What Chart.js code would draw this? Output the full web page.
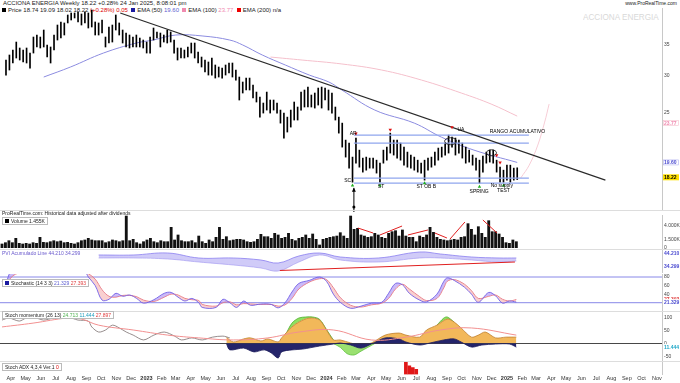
<!DOCTYPE html>
<html>
<head>
<meta charset="utf-8">
<script src="https://cdn.jsdelivr.net/npm/chart.js@4.4.1/dist/chart.umd.min.js"></script>
<style>
  body { margin: 0; width: 680px; height: 383px; overflow: hidden; background: #fff; position: relative;
         font-family: "Liberation Sans", Arial, sans-serif; }
  canvas { position: absolute; left: 0; }
  .t { position: absolute; font-size: 6px; line-height: 7px; white-space: nowrap; color: #222; }
  .box { border: 1px solid #bbb; background: #fff; padding: 0 2px; }
  .sq { display: inline-block; width: 4px; height: 4px; margin-right: 2px; vertical-align: 0; }
  .hl { position: absolute; left: 0; width: 680px; height: 1px; background: #ddd; }
</style>
</head>
<body>
<div class="t" style="left:3px;top:0">ACCIONA ENERGIA Weekly 18.22 +0.28% 24 Jan 2025, 8:08:01 pm</div>
<div class="t" style="right:3px;top:0;font-size:5px">www.ProRealTime.com</div>
<div class="t" style="left:2px;top:7px"><span class="sq" style="background:#000"></span>Price 18.74 19.09 18.02 18.22 <span style="color:#d00">(+0.28%) 0.05</span> &nbsp;<span class="sq" style="background:#1a1aa0"></span>EMA (50) <span style="color:#6060d0">19.60</span> &nbsp;<span class="sq" style="background:#f08ab0"></span>EMA (100) <span style="color:#f08ab0">23.77</span> &nbsp;<span class="sq" style="background:#e00"></span>EMA (200) n/a</div>
<div class="t" style="left:583px;top:11px;font-size:9.5px;line-height:11px;color:#d9d9d9;transform:scaleX(0.86);transform-origin:left top">ACCIONA ENERGIA</div>

<canvas id="cPrice" width="680" height="215" style="top:0"></canvas>
<canvas id="cVol" width="680" height="43" style="top:210px"></canvas>
<canvas id="cPvi" width="680" height="32" style="top:245px"></canvas>
<canvas id="cStoch" width="680" height="46" style="top:269px"></canvas>
<canvas id="cMom" width="680" height="60" style="top:306px"></canvas>
<canvas id="cAdx" width="680" height="36" style="top:347px"></canvas>

<div class="hl" style="top:210px"></div>
<div class="hl" style="top:249px"></div>
<div class="hl" style="top:311px"></div>
<div class="hl" style="top:361px"></div>
<div class="t" style="left:2px;top:210px;font-size:5px">ProRealTime.com: Historical data adjusted after dividends</div>
<div class="t box" style="left:2px;top:217px;font-size:5px;line-height:6px"><span class="sq" style="background:#000"></span>Volume 1.455K</div>
<div class="t" style="left:2px;top:250px;font-size:5px;line-height:6px;color:#6a5acd">PVI Acumulado Line 44.210 34.299</div>
<div class="t box" style="left:2px;top:279px;font-size:5px;line-height:6px"><span class="sq" style="background:#1a1aa0"></span>Stochastic (14 3 3) <span style="color:#6060d0">21.329</span> <span style="color:#e04040">27.393</span></div>
<div class="t box" style="left:2px;top:311px;font-size:5px;line-height:6px">Stoch momentum (26 13) <span style="color:#50b050">24.713</span> <span style="color:#20a0c0">11.444</span> <span style="color:#e04040">27.897</span></div>
<div class="t box" style="left:2px;top:363px;font-size:5px;line-height:6px">Stoch ADX 4,3,4 Ver.1 <span style="color:#d00">0</span></div>

<script>
// ---------- data (weekly bars, week 0 = 14 Mar 2022) ----------
const highs = [32.39,33.20,34.02,35.38,34.36,34.02,34.36,33.52,36.26,36.62,
  36.26,37.53,34.87,34.53,36.62,38.46,39.04,38.85,40.40,40.80,
  40.80,41.00,40.60,41.00,40.80,41.40,39.04,38.85,39.42,36.26,
  38.09,38.46,40.40,38.85,37.53,36.98,36.62,36.26,36.62,36.08,
  35.73,35.38,36.26,37.90,37.17,36.98,36.62,37.53,37.17,35.73,
  34.36,34.36,34.02,34.53,35.21,35.21,33.69,32.87,32.39,32.08,
  32.71,31.61,31.30,31.14,31.61,31.92,31.92,30.84,29.80,29.08,
  29.65,29.65,28.65,27.68,27.01,26.23,27.68,26.62,26.62,26.23,
  25.34,24.97,24.48,25.34,26.36,25.72,27.68,27.96,28.37,27.28,
  27.55,28.23,28.37,28.23,27.96,27.55,25.72,24.48,23.77,21.87,
  21.55,20.12,22.09,20.82,20.02,20.12,20.02,20.02,19.82,19.53,
  20.82,21.13,22.63,21.87,21.87,21.55,21.13,20.62,20.32,20.12,
  19.82,19.53,19.82,20.02,20.12,20.62,21.03,21.13,21.55,22.41,
  22.19,22.09,21.87,21.55,21.13,20.82,20.32,20.02,19.82,20.22,
  20.62,20.82,20.82,19.82,19.15,18.87,19.34,19.34,19.06,19.09];
const lows = [30.09,30.84,31.92,32.71,32.39,32.08,31.92,31.14,33.52,34.53,
  34.36,34.53,32.87,31.92,34.02,35.73,36.08,36.62,38.85,39.42,
  39.81,39.04,38.46,38.85,37.90,38.09,36.62,36.62,36.98,34.53,
  35.21,35.38,37.53,36.62,35.21,34.53,34.36,34.53,34.53,34.53,
  34.36,33.52,33.52,35.73,36.08,34.53,35.38,35.21,35.38,33.52,
  32.39,32.71,32.71,32.87,33.52,32.71,31.92,31.30,30.54,30.09,
  30.09,29.65,29.80,29.65,30.09,30.39,29.80,29.36,26.62,27.55,
  27.96,27.96,26.88,26.36,24.48,24.97,25.34,24.97,25.34,24.97,
  23.77,22.09,22.75,23.31,24.13,24.13,25.34,25.72,25.72,25.72,
  25.59,25.97,25.59,26.62,25.34,24.97,24.13,22.63,21.13,20.12,
  19.06,17.79,19.53,19.15,18.69,18.87,19.06,19.06,18.60,17.79,
  19.53,19.82,20.52,20.32,20.02,19.82,19.34,19.15,19.06,18.87,
  18.69,18.60,17.97,18.87,19.15,19.34,19.82,20.12,20.32,20.52,
  21.13,20.32,20.52,20.02,19.53,19.63,19.34,18.87,17.71,18.69,
  19.53,19.63,19.53,18.69,17.79,17.79,17.97,17.79,17.97,18.02];
const volumes = [730,970,1330,970,1760,850,730,850,730,970,
  850,1940,1030,970,1150,1330,1150,1270,970,1030,
  850,730,970,1330,1460,1760,1460,1330,1330,1330,
  970,1150,1460,1330,1150,1330,5820,1330,1580,970,
  730,1150,1460,1760,1150,970,1330,1150,1150,3760,
  1460,2370,1330,1150,1150,1330,970,2180,1150,850,
  1460,1150,1940,3760,1580,2060,1330,1460,1580,1580,
  1460,1150,1030,1150,1580,2490,2060,2060,1760,2670,
  2370,1760,1940,2670,1580,1330,1760,1940,2370,1760,
  2550,1580,550,1580,1760,1940,2060,2180,2790,2180,
  1760,5820,3400,3580,2370,2180,1940,2060,2670,2370,
  1940,1760,2670,2970,3150,2180,3280,2180,1940,1940,
  1150,2180,1940,2370,3760,2850,1940,1580,1460,1330,
  1460,1580,1460,1940,2060,4430,3400,2370,3880,2670,
  1940,4970,2970,2970,2550,1940,970,850,1460,1150];

// moving averages (week, price)
const ema50Weeks = [11,18.8,28.4,38,42.9,49.5,57.4,65.2,69,74.7,81.4,88.4,94.1,97.9,107.5,119,126.9,136.4,149];
const ema50 = [29.80,31.30,33.52,35.21,35.73,36.62,36.44,35.73,34.87,33.20,31.61,30.09,29.08,27.96,25.34,23.77,22.19,20.82,19.60];
const ema100Weeks = [77.1,86.3,97.9,109.5,121.1,132.7,141.4,149];
const ema100 = [32.87,32.39,31.77,30.84,29.36,27.55,26.10,24.60];

// drawn lines and levels
const trendWeeks = [33.3, 174.7];
const trendPrices = [40.8, 17.97];
const rangeLevels = [22.41, 21.55, 18.15, 17.71];
const rangeWeeks = [101.4, 152.4];
const projWeeks = [150, 152.5, 155, 157, 158.3];
const projPrices = [18.15, 19.34, 21.34, 23.89, 26.1];

// Wyckoff marks
const redMarkWeeks = [102, 112, 130, 143, 144];
const redMarkPrices = [22.6, 23.0, 23.3, 20.3, 19.6];
const greenMarkWeeks = [101, 109, 122, 138, 145];
const greenMarkPrices = [17.5, 17.5, 17.7, 17.4, 17.5];

// volume trend strokes (segments separated by null)
const volLineWeeks = [103.1,107.5,null,109.5,115.9,null,117.6,123.4,null,125.4,128.9,null,129.8,134.1,null,139.3,143.4];
const volLine = [3640,2730,null,2370,4000,null,2370,3280,null,2730,1820,null,1640,4730,null,5100,2730];

// PVI panel
const pviWeeks = [28,38,48,57,67,75,80,86,92,98,109,121,127,136,144,149];
const pviUpper = [42.68,42.68,44.20,40.40,40.40,38.88,36.60,41.92,44.20,41.16,40.40,44.96,43.44,41.16,40.40,40.40];
const pviLower = [40.40,40.40,39.64,37.36,35.08,32.80,30.50,37.36,42.68,38.88,37.36,40.40,40.40,38.88,37.36,38.12];
const pviTrendWeeks = [80.5, 148.6];
const pviTrend = [30.9, 37.36];

// stochastic
const stochWeeks = [0,1,2,3,5,8,12,15,20,24,25,27,29,31,33,35,37,39,41,44,47,49,51,53,55,57,58,62,64,66,
  68,70,72,75,78,80,82,84,86,89,92,94,96,98,101,104,107,110,112,114,116,118,121,123,126,128,129,131,134,136,
  138,141,143,145,147,149];
const stochK = [70,62,85,95,92,95,90,95,98,92,80,60,26,28,42,35,38,30,19,27,42,44,33,24,30,20,9,9,28,20,
  9,24,14,17,16,8,20,45,65,72,80,70,40,21,7,12,19,21,42,65,62,42,26,22,40,70,78,72,56,40,
  21,44,36,19,24,21.33];
const stochD = [75,70,72,82,90,93,92,93,96,94,88,75,50,35,33,37,37,34,26,23,33,40,38,30,27,25,16,12,20,22,
  15,18,17,16,16,12,15,30,52,68,76,74,55,32,14,10,15,19,30,52,63,52,34,25,30,55,70,74,63,48,
  30,35,38,28,24,27.39];

// stoch momentum
const momGrayWeeks = [0,2,5,7,9,12,15,19,22,25,26,28,30,32,34,36,38,41,44,47,50,52,55,58,61,64,66];
const momGray = [92,100,88,100,104,92,100,104,92,88,65,45,53,72,61,45,33,14,33,45,29,14,22,14,25,29,22];
const momSignalWeeks = [0,9,19,23,28,38,48,57,67,77,86,96,107,117,127,136,149];
const momSignal = [65,80,100,96,72,53,33,22,14,22,45,53,14,25,53,61,33];
const momOrangeWeeks = [65,67,70,72,75,77,80,81,84,86,89,92,94,96,98,101,104,107,111,115,117,121,123,126,129,131,133,136,138,140,143,146,149];
const momOrange = [25,6,18,22,10,18,6,22,65,84,100,92,53,14,14,2,-6,2,33,41,33,25,53,72,96,84,61,25,33,45,22,25,25];
const momGreenWeeks = [82,84,86,88,90,92,94,96,110,126,128,129,131];
const momGreen = [30,80,100,104,104,95,55,14,null,72,100,104,84];
const momGreenLowWeeks = [96,98,100,102,104,106,108];
const momGreenLow = [0,-15,-40,-45,-30,-15,0];
const momNavyWeeks = [65,66,70,73,76,78,80,81,84,87,92,96,98,101,104,107,111,115,117,121,124,128,131,133,136,139,143,147,149];
const momNavy = [0,-25,-18,-33,-25,-37,-57,-33,-25,-22,-10,-2,2,-6,-18,-2,22,18,6,-6,2,14,18,6,-14,-6,-2,-2,-14];

// bottom panel
const adxWeeks = [117,118,119,120];
const adx = [12,8.3,6.7,5];

// month ticks (week index of each month start) and labels
const monthTicks = [2.571,6.857,11.286,15.571,20,24.429,28.714,33.143,37.429,41.857,46.286,50.286,54.714,59,63.429,67.714,
  72.143,76.571,80.857,85.286,89.571,94,98.429,102.571,107,111.286,115.714,120,124.429,128.857,133.143,137.571,
  141.857,146.286,150.714,154.714,159.143,163.429,167.857,172.143,176.571,181,185.286,189.714];
const monthLabels = ['Apr','May','Jun','Jul','Aug','Sep','Oct','Nov','Dec','2023','Feb','Mar','Apr','May','Jun','Jul',
  'Aug','Sep','Oct','Nov','Dec','2024','Feb','Mar','Apr','May','Jun','Jul','Aug','Sep','Oct','Nov',
  'Dec','2025','Feb','Mar','Apr','May','Jun','Jul','Aug','Sep','Oct','Nov'];

// ---------- helpers ----------
const X_MIN = -0.58, X_MAX = 191.2;
const FONT = '"Liberation Sans", Arial, sans-serif';
const pts = (xs, ys) => xs.map((x, i) => ({ x: x, y: ys[i] }));

function xAxis(show) {
  return {
    type: 'linear', min: X_MIN, max: X_MAX, offset: false, display: show,
    grid: { display: false, drawTicks: false }, border: { display: false },
    afterBuildTicks: (a) => { a.ticks = monthTicks.map(v => ({ value: v })); },
    ticks: {
      autoSkip: false, maxRotation: 0, minRotation: 0, padding: 1, color: '#333',
      font: (c) => ({ size: 5.5, family: FONT, weight: /^20/.test(monthLabels[c.index] || '') ? 'bold' : 'normal' }),
      callback: (v, i) => monthLabels[i]
    }
  };
}
function yAxis(extra, tickVals, fmt) {
  return Object.assign({
    position: 'right', grid: { display: false, drawTicks: false },
    border: { display: true, color: '#c8c8c8' },
    afterFit: (s) => { s.width = 18; },
    afterBuildTicks: (a) => { a.ticks = tickVals.map(v => ({ value: v })); },
    ticks: { padding: 2, color: '#444', font: { size: 5, family: FONT }, callback: fmt || (v => v) }
  }, extra);
}
const base = (pad) => ({
  responsive: false, animation: false, devicePixelRatio: 1, events: [],
  layout: { padding: pad },
  plugins: { legend: { display: false }, tooltip: { enabled: false } }
});

// text, ellipse and arrow drawings in data coordinates
const drawings = {
  id: 'drawings',
  afterDatasetsDraw(chart, args, o) {
    const { ctx, scales: { x, y } } = chart;
    ctx.save();
    (o.ellipses || []).forEach(e => {
      ctx.beginPath();
      ctx.ellipse(x.getPixelForValue(e.x), y.getPixelForValue(e.y), e.rx, e.ry, 0, 0, Math.PI * 2);
      ctx.strokeStyle = '#222'; ctx.lineWidth = 0.9; ctx.stroke();
    });
    (o.arrows || []).forEach(a => {
      const px = x.getPixelForValue(a.x), y1 = y.getPixelForValue(a.y);
      ctx.strokeStyle = '#000'; ctx.fillStyle = '#000'; ctx.lineWidth = 1;
      ctx.beginPath(); ctx.moveTo(px, y1); ctx.lineTo(px, chart.chartArea.bottom + 2); ctx.stroke();
      ctx.beginPath(); ctx.moveTo(px, y1); ctx.lineTo(px - 2, y1 + 4); ctx.lineTo(px + 2, y1 + 4); ctx.fill();
      ctx.beginPath(); ctx.arc(px, chart.chartArea.bottom - 3, 1.5, 0, Math.PI * 2); ctx.fill();
    });
    (o.texts || []).forEach(t => {
      ctx.font = (t.bold ? 'bold ' : '') + (t.size || 5) + 'px ' + FONT;
      ctx.fillStyle = t.color || '#000'; ctx.textAlign = t.align || 'center'; ctx.textBaseline = 'middle';
      ctx.fillText(t.text, x.getPixelForValue(t.x), y.getPixelForValue(t.y));
    });
    ctx.restore();
  }
};
// value boxes on the right axis
const tags = {
  id: 'tags',
  afterDraw(chart, args, o) {
    const { ctx, chartArea, scales: { y } } = chart;
    ctx.save();
    (o.items || []).forEach(it => {
      const py = y.getPixelForValue(it.v);
      ctx.fillStyle = it.bg || '#fff';
      ctx.fillRect(chartArea.right + 1, py - 3, 16, 6);
      if (it.border) { ctx.strokeStyle = it.border; ctx.lineWidth = 0.6; ctx.strokeRect(chartArea.right + 1.5, py - 2.5, 15, 5); }
      ctx.fillStyle = it.fg || '#000'; ctx.font = 'bold 5px ' + FONT;
      ctx.textAlign = 'left'; ctx.textBaseline = 'middle';
      ctx.fillText(it.text, chartArea.right + 2, py + 0.3);
    });
    ctx.restore();
  }
};
const hline = (v, color, w) => ({ type: 'line', data: [{ x: X_MIN, y: v }, { x: X_MAX, y: v }],
  borderColor: color, borderWidth: w || 1, pointRadius: 0 });

// ---------- price ----------
const priceBars = highs.map((h, i) => ({ x: i, y: [lows[i], h] }));
const rangeSets = rangeLevels.map(v => ({ type: 'line', data: [{ x: rangeWeeks[0], y: v }, { x: rangeWeeks[1], y: v }],
  borderColor: '#8fa6ee', borderWidth: 1.3, pointRadius: 0 }));
new Chart(document.getElementById('cPrice'), {
  type: 'bar',
  data: { datasets: [
    { type: 'scatter', data: pts(redMarkWeeks, redMarkPrices), pointStyle: 'triangle', rotation: 180,
      backgroundColor: '#e01010', borderWidth: 0, pointRadius: 2 },
    { type: 'scatter', data: pts(greenMarkWeeks, greenMarkPrices), pointStyle: 'triangle',
      backgroundColor: '#20b020', borderWidth: 0, pointRadius: 2 },
    { type: 'line', data: pts(trendWeeks, trendPrices), borderColor: '#2a2a2a', borderWidth: 1.1, pointRadius: 0 },
    ...rangeSets,
    { type: 'bar', data: priceBars, backgroundColor: '#000', barThickness: 1, grouped: false },
    { type: 'line', data: pts(ema50Weeks, ema50), borderColor: '#8c8ce0', borderWidth: 1, pointRadius: 0, tension: 0.4 },
    { type: 'line', data: pts(ema100Weeks, ema100), borderColor: '#f5c0cc', borderWidth: 1, pointRadius: 0, tension: 0.4 },
    { type: 'line', data: pts(projWeeks, projPrices), borderColor: '#f7cdd6', borderWidth: 1, pointRadius: 0, tension: 0.4 }
  ] },
  options: Object.assign(base({ top: 8, bottom: 5, left: 0, right: 0 }), {
    scales: {
      x: xAxis(false),
      y: yAxis({ type: 'logarithmic', min: 15.52, max: 41.81 }, [25, 30, 35])
    }
  }, { plugins: {
    legend: { display: false }, tooltip: { enabled: false },
    drawings: {
      texts: [
        { x: 101.2, y: 22.6, text: 'AR' }, { x: 99.6, y: 17.95, text: 'SC' },
        { x: 109.3, y: 17.42, text: 'ST' }, { x: 122.5, y: 17.42, text: 'ST OB B' },
        { x: 132.6, y: 23.05, text: 'UA' }, { x: 137.9, y: 17.0, text: 'SPRING' },
        { x: 144.5, y: 17.45, text: 'No supply' }, { x: 145.0, y: 17.05, text: 'TEST' },
        { x: 141.0, y: 22.75, text: 'RANGO ACUMULATIVO', align: 'left' }
      ],
      ellipses: [{ x: 129.6, y: 21.75, rx: 6, ry: 3.5 }, { x: 141.5, y: 20.55, rx: 5, ry: 3 }],
      arrows: [{ x: 101.4, y: 17.3 }]
    },
    tags: { items: [
      { v: 23.77, text: '23.77', fg: '#f08ab0', bg: '#fff', border: '#f5c0cc' },
      { v: 19.60, text: '19.60', fg: '#4a4ad0', bg: '#fff', border: '#b0b0ee' },
      { v: 18.22, text: '18.22', fg: '#000', bg: '#ffe000' }
    ] }
  } }),
  plugins: [drawings, tags]
});

// ---------- volume ----------
new Chart(document.getElementById('cVol'), {
  type: 'bar',
  data: { datasets: [
    { type: 'line', data: pts(volLineWeeks, volLine), borderColor: '#e02020', borderWidth: 1, pointRadius: 0, spanGaps: false },
    { type: 'bar', data: volumes.map((v, i) => ({ x: i, y: v })), backgroundColor: '#111', barThickness: 2.2, grouped: false }
  ] },
  options: Object.assign(base({ top: 5, bottom: 5, left: 0, right: 0 }), {
    scales: {
      x: xAxis(false),
      y: yAxis({ min: 0, max: 6006 }, [0, 1500, 4000], v => v === 0 ? '0' : (v / 1000).toFixed(3) + 'K')
    }
  })
});

// ---------- PVI ----------
new Chart(document.getElementById('cPvi'), {
  type: 'line',
  data: { datasets: [
    { data: pts(pviTrendWeeks, pviTrend), borderColor: '#e02020', borderWidth: 1.2, pointRadius: 0 },
    { data: pts(pviWeeks, pviUpper), borderColor: '#8a7ff0', borderWidth: 0.8, pointRadius: 0, tension: 0.4,
      fill: { target: 2, above: 'rgba(150,140,240,0.45)', below: 'rgba(150,140,240,0.45)' } },
    { data: pts(pviWeeks, pviLower), borderColor: '#b8b0f4', borderWidth: 0.8, pointRadius: 0, tension: 0.4 }
  ] },
  options: Object.assign(base({ top: 5, bottom: 5, left: 0, right: 0 }), {
    scales: { x: xAxis(false), y: yAxis({ min: 29.76, max: 46.48 }, []) },
    plugins: { legend: { display: false }, tooltip: { enabled: false },
      tags: { items: [{ v: 44.2, text: '44.210', fg: '#4a4ad0' }, { v: 34.3, text: '34.299', fg: '#4a4ad0' }] } }
  }),
  plugins: [tags]
});

// ---------- stochastic ----------
new Chart(document.getElementById('cStoch'), {
  type: 'line',
  data: { datasets: [
    { data: pts(stochWeeks, stochK), borderColor: '#7060e8', borderWidth: 0.9, pointRadius: 0, tension: 0.35,
      fill: { target: 1, above: 'rgba(160,130,240,0.55)', below: 'rgba(244,170,170,0.55)' } },
    { data: pts(stochWeeks, stochD), borderColor: '#ee7070', borderWidth: 0.9, pointRadius: 0, tension: 0.35 },
    hline(80, '#8888e8', 1), hline(20, '#8888e8', 1)
  ] },
  options: Object.assign(base({ top: 5, bottom: 5, left: 0, right: 0 }), {
    scales: { x: xAxis(false), y: yAxis({ min: 3, max: 87 }, [40, 60, 80]) },
    plugins: { legend: { display: false }, tooltip: { enabled: false },
      tags: { items: [{ v: 27.39, text: '27.393', fg: '#e04040' }, { v: 21.33, text: '21.329', fg: '#4a4ad0' }] } }
  }),
  plugins: [tags]
});

// ---------- stoch momentum ----------
new Chart(document.getElementById('cMom'), {
  type: 'line',
  data: { datasets: [
    { data: pts(momSignalWeeks, momSignal), borderColor: '#f29090', borderWidth: 1, pointRadius: 0, tension: 0.4 },
    { data: pts(momGrayWeeks, momGray), borderColor: '#8a8080', borderWidth: 0.9, pointRadius: 0, tension: 0.3 },
    { data: pts(momNavyWeeks, momNavy), borderColor: '#1d1d5c', borderWidth: 0.8, pointRadius: 0, tension: 0.3,
      fill: { target: 'origin', above: '#24246a', below: '#24246a' } },
    hline(0, '#333', 0.9),
    { data: pts(momGreenLowWeeks, momGreenLow), borderColor: '#60c040', borderWidth: 0.8, pointRadius: 0, tension: 0.3,
      fill: { target: 'origin', above: '#9ae070', below: '#9ae070' } },
    { data: pts(momOrangeWeeks, momOrange), borderColor: '#c08030', borderWidth: 0.8, pointRadius: 0, tension: 0.3,
      fill: { target: 'origin', above: '#f2b85a', below: '#f2b85a' } },
    { data: pts(momGreenWeeks, momGreen), borderColor: '#50b030', borderWidth: 0.8, pointRadius: 0, tension: 0.3,
      fill: { target: 5, above: '#8fe060', below: 'rgba(0,0,0,0)' } }
  ] },
  options: Object.assign(base({ top: 5, bottom: 5, left: 0, right: 0 }), {
    scales: { x: xAxis(false), y: yAxis({ min: -68.6, max: 127.5 }, [-50, 0, 50, 100]) },
    plugins: { legend: { display: false }, tooltip: { enabled: false },
      tags: { items: [{ v: -14, text: '11.444', fg: '#20a8c8' }] } }
  }),
  plugins: [tags]
});

// ---------- bottom panel with the date axis ----------
new Chart(document.getElementById('cAdx'), {
  type: 'bar',
  data: { datasets: [
    { data: pts(adxWeeks, adx), backgroundColor: '#e01818', barThickness: 3, grouped: false }
  ] },
  options: Object.assign(base({ top: 15, bottom: 0, left: 0, right: 0 }), {
    scales: { x: xAxis(true), y: yAxis({ min: 0, max: 12 }, [], v => v) }
  })
});
</script>
</body>
</html>
